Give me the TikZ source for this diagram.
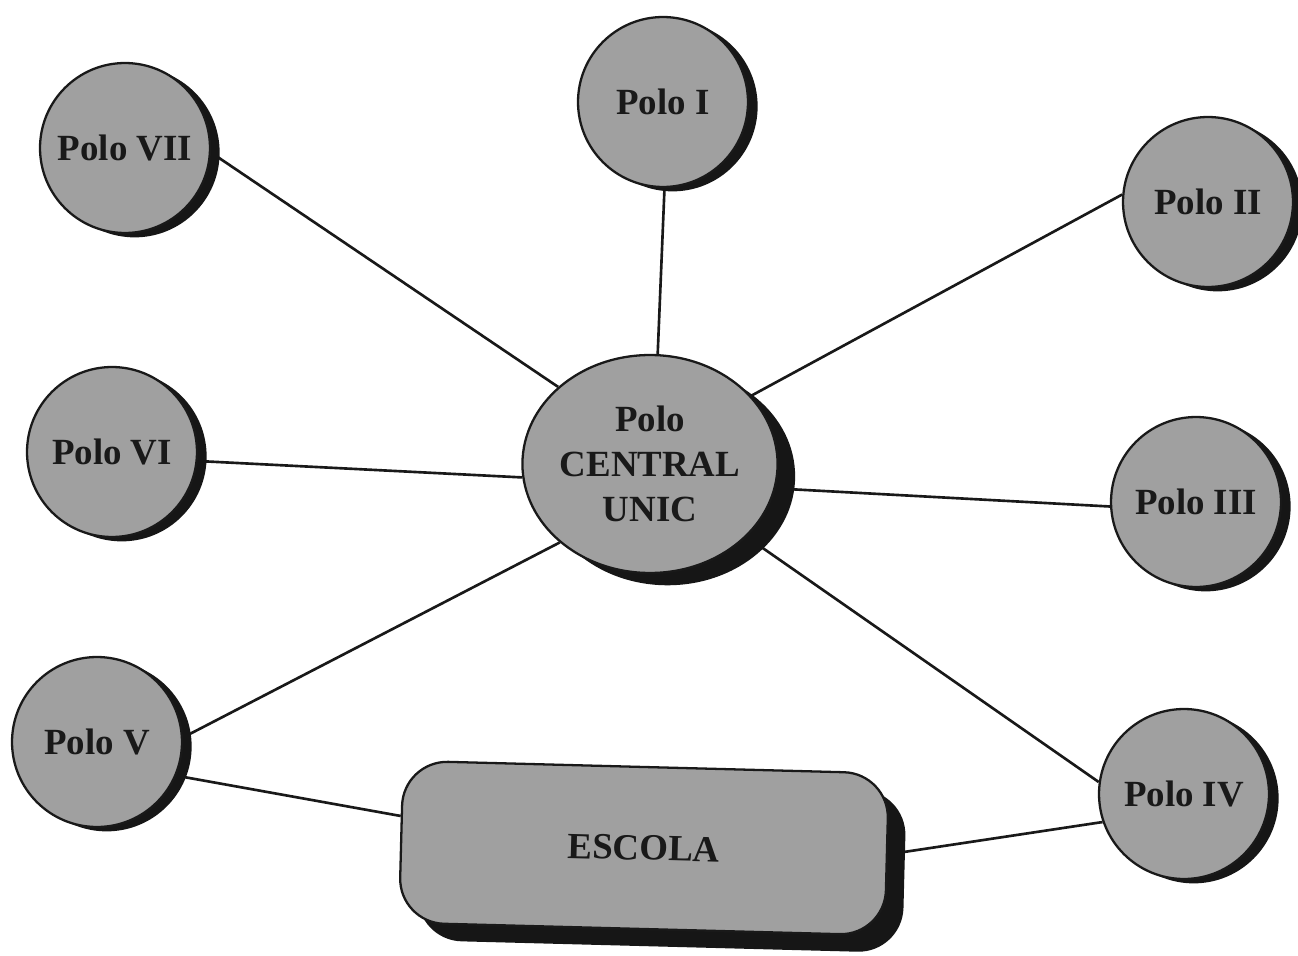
\documentclass[tikz,border=0pt]{standalone}
\usepackage{fontspec}
\setmainfont{Liberation Serif}
\usetikzlibrary{shadows,backgrounds,shapes.geometric}
\definecolor{polofill}{RGB}{160,160,160}
\definecolor{shadowc}{RGB}{22,22,22}
\definecolor{inkc}{RGB}{25,25,25}
\begin{document}
\begin{tikzpicture}[x=0.02cm,y=-0.02cm,
  base/.style={draw=inkc, line width=1.3pt, fill=polofill, font=\fontsize{21}{25.5}\selectfont\bfseries, text=inkc, align=center, inner sep=0pt},
  polo/.style={base, circle, minimum size=3.4cm, drop shadow={shadow xshift=5.5pt, shadow yshift=-2.5pt, fill=shadowc, opacity=1}},
  central/.style={base, ellipse, minimum width=4.92cm, minimum height=4.36cm, drop shadow={shadow xshift=10pt, shadow yshift=-7pt, fill=shadowc, opacity=1}},
  escola/.style={base, rectangle, rounded corners=0.9cm, minimum width=9.72cm, minimum height=3.24cm, rotate=-1.5, drop shadow={shadow xshift=10pt, shadow yshift=-10pt, fill=shadowc, opacity=1}},
  link/.style={line width=1.5pt, draw=inkc}]
\useasboundingbox (0,0) rectangle (1298,956);
\node[polo] (p1) at (663,102) {Polo I};
\node[polo] (p2) at (1208,202) {Polo II};
\node[polo] (p3) at (1196,502) {Polo III};
\node[polo] (p4) at (1184,794) {Polo IV};
\node[polo] (p5) at (97,742) {Polo V};
\node[polo] (p6) at (112,452) {Polo VI};
\node[polo] (p7) at (125,148) {Polo VII};
\node[central] (c) at (650,464) {Polo\\CENTRAL\\UNIC};
\node[escola] (e) at (644,848) {ESCOLA};
\begin{scope}[on background layer]
\fill[white] (0,0) rectangle (1298,956);
\draw[link] (p7.-3) -- (c.140);
\draw[link] (p1.-89) -- (c.86);
\draw[link] (p2.175) -- (c.34);
\draw[link] (p6.-6) -- (c.186.5);
\draw[link] (p3.183) -- (c.-11);
\draw[link] (p5.3) -- (c.221);
\draw[link] (p4.172) -- (c.-37.6);
\draw[link] (p5.-23) -- (e.174.6);
\draw[link] (e.0.7) -- (p4.199);
\end{scope}
\end{tikzpicture}
\end{document}
